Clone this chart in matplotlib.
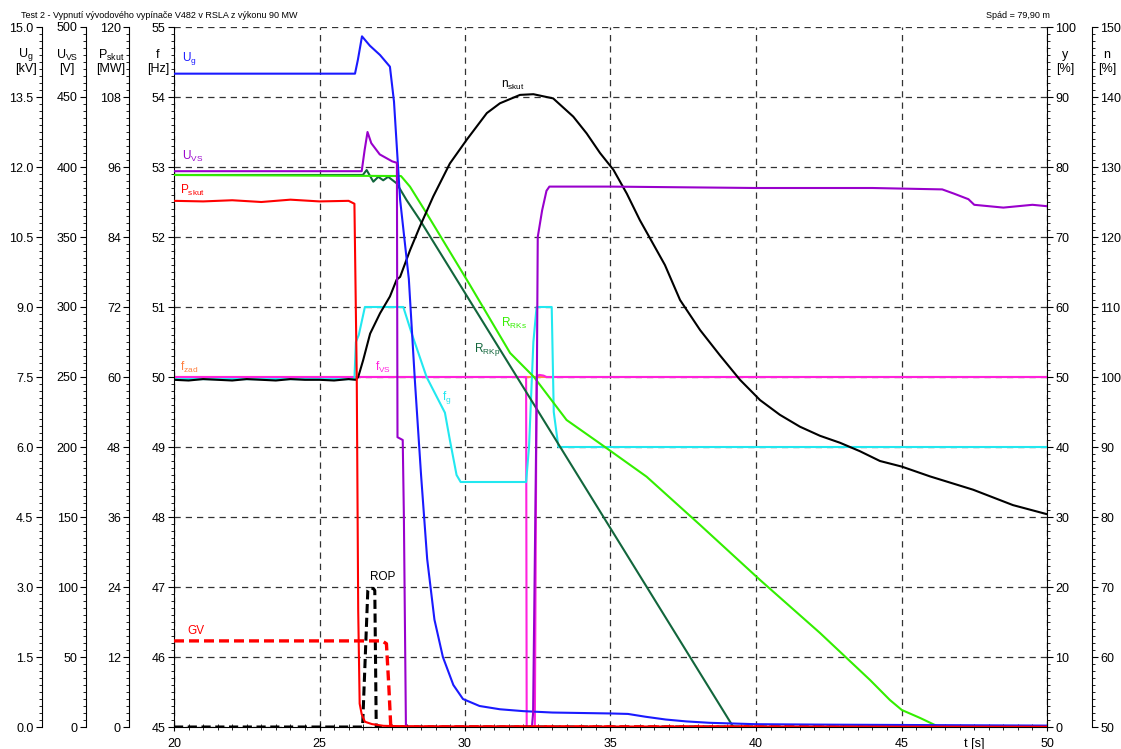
import matplotlib
matplotlib.use("Agg")
import matplotlib.pyplot as plt
from matplotlib.ticker import MultipleLocator, FormatStrFormatter

plt.rcParams['font.family'] = ['Liberation Sans', 'DejaVu Sans']
plt.rcParams['mathtext.default'] = 'regular'

# --- data ---
# U_g [kV]
t_ug = [20, 26.22, 26.32, 26.46, 26.73, 27.08, 27.42, 27.56, 27.77, 28.07, 28.28, 28.49, 28.7, 28.95,
        29.24, 29.6, 29.93, 30.5, 31.2, 32.0, 33.0, 34.0, 35.0, 35.6, 36.2, 36.9, 37.6, 38.4, 40, 42.5, 50]
ug = [14.0, 14.0, 14.3, 14.8, 14.6, 14.4, 14.15, 13.4, 11.3, 9.6, 7.4, 5.4, 3.6, 2.3,
      1.5, 0.9, 0.6, 0.45, 0.38, 0.34, 0.31, 0.3, 0.29, 0.28, 0.22, 0.16, 0.12, 0.09, 0.06, 0.05, 0.03]

# U_VS [V]
t_uvs = [20, 26.45, 26.55, 26.65, 26.78, 27.07, 27.5, 27.66, 27.68, 27.86, 27.9, 27.97, 32.3, 32.34,
         32.47, 32.5, 32.65, 32.8, 32.9, 35, 40, 44, 46.4, 46.8, 47.3, 47.5, 48, 48.5, 49, 49.5, 50]
uvs = [397, 397, 412, 425, 417, 409, 404, 403, 207, 205, 150, 0, 0, 10,
       250, 350, 369, 383, 386, 386, 385, 385, 384, 381, 377, 373, 372, 371, 372, 373, 372]

# P_skut [MW]
t_p = [20, 21, 22, 23, 24, 25, 26.0, 26.2, 26.28, 26.33, 26.38, 26.45, 26.56, 26.8, 27.2, 28, 50]
p_skut = [90.2, 90.1, 90.3, 90.0, 90.4, 90.1, 90.2, 89.7, 60, 20, 4, 2.2, 0.9, 0.5, 0.2, 0.1, 0.05]

# frequencies [Hz]
t_fzad = [20, 50]
f_zad = [50.0, 50.0]
t_fvs = [20, 32.10, 32.12, 32.40, 32.46, 32.55, 32.7, 32.8, 50]
f_vs = [50, 50, 45, 45, 50, 50.03, 50.02, 50, 50]
t_fg = [20, 26.2, 26.25, 26.35, 26.56, 27.88, 28.17, 28.68, 29.31, 29.48, 29.71, 29.85,
        32.1, 32.2, 32.35, 32.46, 32.98, 33.05, 33.21, 50]
f_g = [49.97, 49.97, 50.5, 50.6, 51.0, 51.0, 50.62, 50.0, 49.49, 49.1, 48.6, 48.5,
       48.5, 49.0, 50.5, 51.0, 51.0, 49.5, 49.0, 49.0]

# n_skut [%]
t_n = [20, 20.5, 21, 21.5, 22, 22.5, 23, 23.5, 24, 24.5, 25, 25.5, 26, 26.25, 26.33, 26.5, 26.74,
       27.08, 27.42, 27.65, 27.77, 28.11, 28.45, 28.91, 29.48, 30.06, 30.75, 31.2, 31.89, 32.35,
       33.03, 33.72, 34.18, 34.64, 35.1, 35.56, 36.01, 36.36, 36.87, 37.39, 38.08, 38.76, 39.45,
       40.14, 40.82, 41.51, 42.2, 42.89, 43.57, 44.26, 45.01, 45.98, 47.46, 48.83, 50]
n_skut = [99.6, 99.5, 99.7, 99.6, 99.5, 99.7, 99.6, 99.5, 99.7, 99.6, 99.6, 99.5, 99.7, 99.6, 100.0,
          102.4, 106.2, 109.1, 111.5, 113.9, 114.3, 118.1, 121.5, 125.8, 130.5, 133.9, 137.7, 139.1,
          140.3, 140.4, 139.8, 137.2, 134.8, 132.0, 129.6, 126.2, 122.4, 119.8, 116.0, 111.0, 106.7,
          103.1, 99.6, 96.7, 94.6, 92.9, 91.6, 90.6, 89.4, 88.0, 87.2, 85.8, 83.9, 81.7, 80.4]

# y [%]
t_rks = [20, 27.80, 28.11, 28.68, 30.17, 31.55, 32.37, 33.49, 34.81, 36.24, 38.08, 40.14, 42.2,
         43.92, 44.6, 45.01, 45.64, 46.22, 50]
r_rks = [78.86, 78.71, 77.19, 73.39, 63.14, 53.43, 50.0, 43.86, 40.0, 35.76, 28.86, 21.0, 13.43,
         6.71, 3.86, 2.43, 1.29, 0.14, 0]
t_rkp = [20, 26.49, 26.62, 26.85, 27.02, 27.19, 27.36, 27.65, 27.99, 28.45, 39.22, 50]
r_rkp = [78.86, 78.86, 79.57, 77.9, 78.6, 78.1, 78.6, 77.67, 75.29, 72.43, 0, 0]
t_gv = [20, 27.15, 27.3, 27.38, 27.45, 50]
gv = [12.3, 12.3, 11.9, 6, 0, 0]
t_rop = [20, 26.48, 26.66, 26.7, 26.85, 26.9, 26.95, 50]
rop = [0, 0, 19.5, 19.8, 19.8, 19.5, 0, 0]

fs = 9

fig = plt.figure(figsize=(11.21, 7.49), dpi=100)
ax = fig.add_axes([174 / 1121, 22 / 749, 873 / 1121, 700 / 749])


def style_axis(a, side, pos, lo, hi, major, fmt):
    for s in a.spines.values():
        s.set_visible(False)
    a.spines[side].set_visible(True)
    a.spines[side].set_position(('axes', pos))
    a.yaxis.set_ticks_position(side)
    a.set_ylim(lo, hi)
    a.yaxis.set_major_locator(MultipleLocator(major))
    a.yaxis.set_minor_locator(MultipleLocator(major / 10))
    a.yaxis.set_major_formatter(FormatStrFormatter(fmt))
    a.tick_params(axis='y', which='major', direction='out', length=4, labelsize=fs, pad=2)
    a.tick_params(axis='y', which='minor', direction='out', length=2)


# main axis: f [Hz]
ax.set_xlim(20, 50)
ax.set_ylim(45, 55)
for s in ['top', 'right']:
    ax.spines[s].set_visible(False)
ax.yaxis.set_major_locator(MultipleLocator(1))
ax.yaxis.set_minor_locator(MultipleLocator(0.1))
ax.xaxis.set_major_locator(MultipleLocator(5))
ax.xaxis.set_minor_locator(MultipleLocator(0.5))
ax.tick_params(axis='y', which='major', direction='out', length=4, labelsize=fs, pad=2)
ax.tick_params(axis='y', which='minor', direction='out', length=2)
ax.tick_params(axis='x', which='major', direction='inout', length=6, labelsize=fs, pad=5)
ax.tick_params(axis='x', which='minor', direction='inout', length=4)
ax.grid(True, which='major', color='#333333', linestyle=(0, (5, 4)), linewidth=0.9)

ax_y = ax.twinx()
style_axis(ax_y, 'right', 1.0, 0, 100, 10, '%d')
ax_n = ax.twinx()
style_axis(ax_n, 'right', 1.0512, 50, 150, 10, '%d')
ax_ug = ax.twinx()
style_axis(ax_ug, 'left', -0.1515, 0, 15, 1.5, '%.1f')
ax_uvs = ax.twinx()
style_axis(ax_uvs, 'left', -0.1008, 0, 500, 50, '%d')
ax_p = ax.twinx()
style_axis(ax_p, 'left', -0.0512, 0, 120, 12, '%d')

lw = 1.5
ax.plot(t_fzad, f_zad, color='#ff9040', lw=lw)
ax.plot(t_fvs, f_vs, color='#ff22dd', lw=lw)
ax.plot(t_fg, f_g, color='#22e8f0', lw=lw)
ax_y.plot(t_rkp, r_rkp, color='#12663c', lw=lw)
ax_y.plot(t_rks, r_rks, color='#33ee00', lw=lw)
ax_n.plot(t_n, n_skut, color='black', lw=lw)
ax_ug.plot(t_ug, ug, color='#1a1aff', lw=lw)
ax_uvs.plot(t_uvs, uvs, color='#9900cc', lw=lw)
ax_p.plot(t_p, p_skut, color='#ff0000', lw=lw)
ax_y.plot(t_rop, rop, color='black', lw=2.2, linestyle=(0, (3, 1.5)))
ax_y.plot(t_gv, gv, color='#ff0000', lw=2.4, linestyle=(0, (3, 1.5)))

# curve names
lab = 8.5
ax.text(20.27, 54.55, r'U$_{g}$', color='#1a1aff', fontsize=lab, va='center')
ax.text(20.27, 53.15, r'U$_{VS}$', color='#9900cc', fontsize=lab, va='center')
ax.text(20.2, 52.66, r'P$_{skut}$', color='#ff0000', fontsize=lab, va='center')
ax.text(20.2, 50.14, r'f$_{zad}$', color='#ff8040', fontsize=lab, va='center')
ax.text(20.45, 46.37, 'GV', color='#ff0000', fontsize=lab, va='center')
ax.text(26.75, 47.14, 'ROP', color='black', fontsize=lab, va='center')
ax.text(26.9, 50.14, r'f$_{VS}$', color='#ff22dd', fontsize=lab, va='center')
ax.text(29.2, 49.71, r'f$_{g}$', color='#22e8f0', fontsize=lab, va='center')
ax.text(31.25, 50.77, r'R$_{RKs}$', color='#33ee00', fontsize=lab, va='center')
ax.text(30.3, 50.39, r'R$_{RKp}$', color='#12663c', fontsize=lab, va='center')
ax.text(31.25, 54.17, r'n$_{skut}$', color='black', fontsize=lab, va='center')
ax.text(47.5, 44.76, 't [s]', fontsize=fs, ha='center', va='center')

# axis names
for x, name, unit in [(26, r'U$_{g}$', '[kV]'), (67, r'U$_{VS}$', '[V]'), (111, r'P$_{skut}$', '[MW]'),
                      (158, 'f', '[Hz]'), (1065, 'y', '[%]'), (1107, 'n', '[%]')]:
    fig.text(x / 1121, 1 - 55 / 749, name, fontsize=fs, ha='center', va='center')
    fig.text(x / 1121, 1 - 69 / 749, unit, fontsize=fs, ha='center', va='center')

fig.text(21 / 1121, 1 - 15 / 749, 'Test 2 - Vypnutí vývodového vypínače V482 v RSLA z výkonu 90 MW',
         fontsize=6.5, va='center')
fig.text(1050 / 1121, 1 - 15 / 749, 'Spád = 79,90 m', fontsize=6.5, ha='right', va='center')

fig.savefig('out.png', dpi=100)
